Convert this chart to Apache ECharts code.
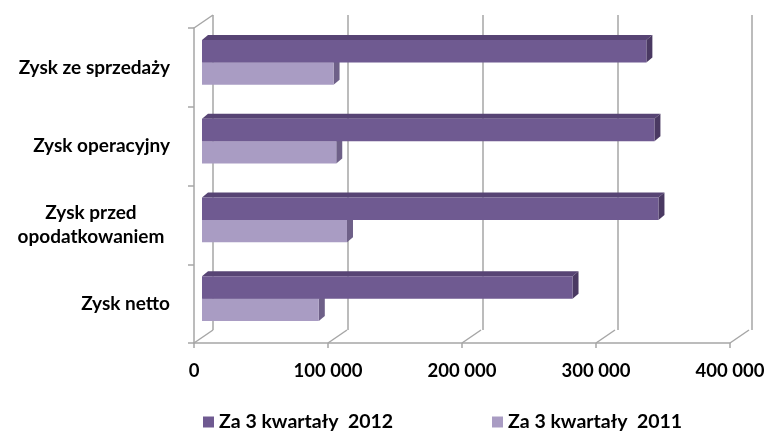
<!DOCTYPE html>
<html>
<head>
<meta charset="utf-8">
<script src="https://cdn.jsdelivr.net/npm/echarts@6/dist/echarts.min.js"></script>
<style>
html,body{margin:0;padding:0;background:#fff;}
#chart{width:769px;height:432px;}
</style>
</head>
<body>
<div id="chart"></div>
<script>
// ---- data ----
const categories = ['Zysk ze sprzedaży', 'Zysk operacyjny', 'Zysk przed\nopodatkowaniem', 'Zysk netto'];
const seriesNames = ['Za 3 kwartały  2012', 'Za 3 kwartały  2011'];
const values2012 = [331000, 337000, 340000, 276000];
const values2011 = [98000, 100000, 108000, 87000];
const tickValues = [0, 100000, 200000, 300000, 400000];
const tickLabels = ['0', '100 000', '200 000', '300 000', '400 000'];

// ---- styles ----
const FONT = 'Lato';
const GRAY = '#a6a6a6';
const DEPTH_BAR = [6, -5];
const DEPTH_WALL = [19, -13];
const colors = {
  dark: { front: '#6f5a91', top: '#574474', side: '#4a3962' },
  light: { front: '#a99cc3', top: '#8d7fa8', side: '#6e6088' }
};

const chart = echarts.init(document.getElementById('chart'), null, { renderer: 'canvas' });

function barRenderer(upper, pal) {
  return function (params, api) {
    const v = api.value(0), c = api.value(1);
    const p0 = api.coord([0, c]);
    const p1 = api.coord([v, c]);
    const band = api.size([0, 1])[1];
    const h = band * 0.285;
    const y0 = upper ? p0[1] - h : p0[1];
    const x0 = p0[0], x1 = p1[0];
    const dx = DEPTH_BAR[0], dy = DEPTH_BAR[1];
    return {
      type: 'group',
      children: [
        { type: 'polygon', shape: { points: [[x0, y0], [x0 + dx, y0 + dy], [x1 + dx, y0 + dy], [x1, y0]] },
          style: { fill: pal.top } },
        { type: 'polygon', shape: { points: [[x1, y0], [x1 + dx, y0 + dy], [x1 + dx, y0 + h + dy], [x1, y0 + h]] },
          style: { fill: pal.side } },
        { type: 'rect', shape: { x: x0, y: y0, width: x1 - x0, height: h },
          style: { fill: pal.front } }
      ]
    };
  };
}

function diagRenderer(params, api) {
  const v = api.value(0);
  const cs = params.coordSys;
  const x = api.coord([v, 0])[0];
  const fy = cs.y + cs.height;
  const children = [
    { type: 'line', shape: { x1: x, y1: fy, x2: x + DEPTH_WALL[0], y2: fy + DEPTH_WALL[1] },
      style: { stroke: GRAY, lineWidth: 1.5 } }
  ];
  if (v === tickValues[0]) {
    children.push({ type: 'line', shape: { x1: cs.x, y1: cs.y, x2: cs.x + DEPTH_WALL[0], y2: cs.y + DEPTH_WALL[1] },
      style: { stroke: GRAY, lineWidth: 1.5 } });
  }
  return { type: 'group', children: children };
}

const valueMax = tickValues[tickValues.length - 1];
const interval = tickValues[1] - tickValues[0];
const labelFont = { fontFamily: FONT, fontWeight: 'bold', color: '#000' };

const option = {
  animation: false,
  backgroundColor: '#ffffff',
  textStyle: { fontFamily: FONT },
  grid: [
    { left: 194, right: 39, top: 28, bottom: 89 },   // front (axes, labels)
    { left: 213, right: 17, top: 15, bottom: 102 },  // back wall (gridlines)
    { left: 202, right: 30, top: 23, bottom: 94 }    // bars
  ],
  xAxis: [
    { gridIndex: 0, type: 'value', min: 0, max: valueMax, interval: interval,
      axisLine: { show: true, lineStyle: { color: GRAY, width: 1.5 } },
      axisTick: { show: true, length: 5, lineStyle: { color: GRAY, width: 1.5 } },
      splitLine: { show: false },
      axisLabel: Object.assign({ margin: 19, fontSize: 18.5,
        formatter: function (v) { return tickLabels[tickValues.indexOf(v)]; } }, labelFont) },
    { gridIndex: 1, type: 'value', min: 0, max: valueMax, interval: interval,
      axisLine: { show: false }, axisTick: { show: false }, axisLabel: { show: false },
      splitLine: { show: true, lineStyle: { color: GRAY, width: 1.5 } } },
    { gridIndex: 2, type: 'value', min: 0, max: valueMax, interval: interval, show: false,
      splitLine: { show: false } }
  ],
  yAxis: [
    { gridIndex: 0, type: 'category', data: categories, inverse: true,
      axisLine: { show: true, lineStyle: { color: GRAY, width: 1.5 } },
      axisTick: { show: true, length: 6, lineStyle: { color: GRAY, width: 1.5 } },
      axisLabel: Object.assign({ margin: 24, fontSize: 19, lineHeight: 24,
        formatter: function (s) {
          const parts = s.split('\n');
          if (parts.length === 1) return s;
          return parts.map(function (p) { return '{c|' + p + '}'; }).join('\n');
        },
        rich: { c: Object.assign({ width: 158, align: 'center', fontSize: 19, lineHeight: 24 }, labelFont) } }, labelFont) },
    { gridIndex: 1, type: 'category', data: categories, inverse: true, show: false },
    { gridIndex: 2, type: 'category', data: categories, inverse: true, show: false }
  ],
  legend: [
    { data: [seriesNames[0]], left: 203, top: 412, padding: 0, itemWidth: 11, itemHeight: 11, icon: 'rect',
      textStyle: Object.assign({ fontSize: 19.5 }, labelFont) },
    { data: [seriesNames[1]], left: 492, top: 412, padding: 0, itemWidth: 11, itemHeight: 11, icon: 'rect',
      textStyle: Object.assign({ fontSize: 19.5 }, labelFont) }
  ],
  series: [
    { name: 'diag', type: 'custom', xAxisIndex: 0, yAxisIndex: 0, silent: true,
      data: tickValues.map(function (v) { return [v, 0]; }), renderItem: diagRenderer, z: 1 },
    { name: seriesNames[1], type: 'custom', xAxisIndex: 2, yAxisIndex: 2,
      itemStyle: { color: colors.light.front },
      data: values2011.map(function (v, i) { return [v, i]; }), encode: { x: 0, y: 1 },
      renderItem: barRenderer(false, colors.light), z: 2 },
    { name: seriesNames[0], type: 'custom', xAxisIndex: 2, yAxisIndex: 2,
      itemStyle: { color: colors.dark.front },
      data: values2012.map(function (v, i) { return [v, i]; }), encode: { x: 0, y: 1 },
      renderItem: barRenderer(true, colors.dark), z: 3 }
  ]
};
chart.setOption(option);
</script>
</body>
</html>
